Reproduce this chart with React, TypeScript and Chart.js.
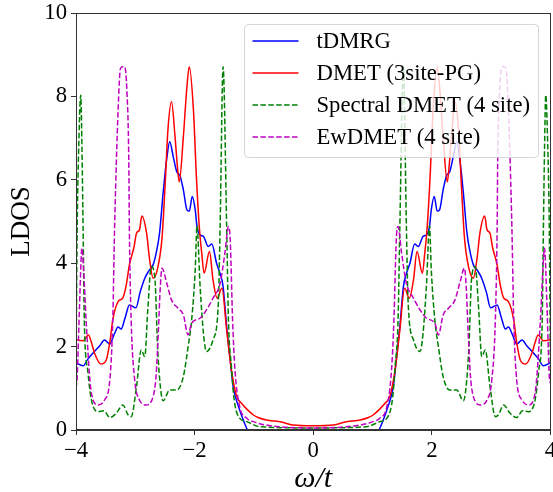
import React, { useEffect, useRef } from "react";
import { Chart, registerables } from "chart.js";

Chart.register(...registerables);

// ---- data ----
const tdmrgOmega = [
  -4.00, -3.98, -3.88, -3.80, -3.69, -3.60, -3.52, -3.43, -3.36, -3.29, -3.24, -3.17, -3.10, -2.99, -2.92, -2.84,
  -2.77, -2.70, -2.64, -2.59, -2.53, -2.47, -2.42, -2.36, -2.30, -2.25, -2.19, -2.13, -2.09, -2.04, -1.99, -1.96,
  -1.91, -1.85, -1.77, -1.71, -1.63, -1.57, -1.52, -1.46, -1.40, -1.35, -1.26, -1.18, -1.11, -1.00, -0.50, 0.00,
  0.50, 1.00, 1.11, 1.18, 1.26, 1.35, 1.40, 1.46, 1.52, 1.57, 1.63, 1.71, 1.77, 1.85, 1.91, 1.96,
  1.99, 2.04, 2.09, 2.13, 2.19, 2.25, 2.30, 2.36, 2.42, 2.47, 2.53, 2.59, 2.64, 2.70, 2.77, 2.84,
  2.92, 2.99, 3.10, 3.17, 3.24, 3.29, 3.36, 3.43, 3.52, 3.60, 3.69, 3.80, 3.88, 3.98, 4.00,
];
const tdmrgLdos = [
  1.62, 1.60, 1.54, 1.70, 1.88, 2.02, 2.16, 2.06, 2.28, 2.47, 2.42, 2.70, 3.00, 2.93, 3.30, 3.64,
  3.82, 3.96, 4.30, 4.74, 5.70, 6.50, 6.91, 6.55, 6.19, 6.11, 5.76, 5.28, 5.25, 5.60, 5.28, 4.88,
  4.68, 4.64, 4.40, 4.46, 4.00, 3.75, 3.44, 2.48, 1.68, 1.04, 0.56, 0.24, 0.00, -0.30, -0.50, -0.50,
  -0.50, -0.30, 0.00, 0.24, 0.56, 1.04, 1.68, 2.48, 3.44, 3.75, 4.00, 4.46, 4.40, 4.64, 4.68, 4.88,
  5.28, 5.60, 5.25, 5.28, 5.76, 6.11, 6.19, 6.55, 6.91, 6.50, 5.70, 4.74, 4.30, 3.96, 3.82, 3.64,
  3.30, 2.93, 3.00, 2.70, 2.42, 2.47, 2.28, 2.06, 2.16, 2.02, 1.88, 1.70, 1.54, 1.60, 1.62,
];

const dmetOmega = [
  -4.00, -3.98, -3.88, -3.79, -3.74, -3.69, -3.58, -3.49, -3.43, -3.38, -3.29, -3.21, -3.15, -3.10, -3.02, -2.98,
  -2.93, -2.89, -2.81, -2.76, -2.70, -2.62, -2.55, -2.50, -2.45, -2.39, -2.33, -2.29, -2.26, -2.19, -2.13, -2.09,
  -2.02, -1.97, -1.92, -1.88, -1.84, -1.75, -1.69, -1.62, -1.54, -1.46, -1.38, -1.29, -1.21, -1.12, -1.01, -0.93,
  -0.79, -0.56, -0.34, 0.00,
  0.34, 0.56, 0.79, 0.93, 1.01, 1.12, 1.21, 1.29, 1.38, 1.46, 1.54, 1.62, 1.69, 1.75, 1.84, 1.88,
  1.92, 1.97, 2.02, 2.09, 2.13, 2.19, 2.26, 2.29, 2.33, 2.39, 2.45, 2.50, 2.55, 2.62, 2.70, 2.76,
  2.81, 2.89, 2.93, 2.98, 3.02, 3.10, 3.15, 3.21, 3.29, 3.38, 3.43, 3.49, 3.58, 3.69, 3.74, 3.79,
  3.88, 3.98, 4.00,
];
const dmetLdos = [
  2.18, 2.16, 2.14, 2.28, 2.10, 1.85, 1.58, 1.68, 2.10, 2.64, 3.08, 3.17, 3.50, 3.96, 4.40, 4.72,
  4.80, 5.13, 4.72, 4.10, 3.64, 3.90, 4.60, 5.80, 7.20, 7.87, 7.03, 6.31, 5.95, 7.03, 8.23, 8.71,
  7.67, 6.07, 4.84, 4.24, 3.76, 4.28, 3.60, 3.16, 3.40, 2.40, 1.44, 0.80, 0.64, 0.50, 0.36, 0.30,
  0.24, 0.20, 0.12, 0.10,
  0.12, 0.20, 0.24, 0.30, 0.36, 0.50, 0.64, 0.80, 1.44, 2.40, 3.40, 3.16, 3.60, 4.28, 3.76, 4.24,
  4.84, 6.07, 7.67, 8.71, 8.23, 7.03, 5.95, 6.31, 7.03, 7.87, 7.20, 5.80, 4.60, 3.90, 3.64, 4.10,
  4.72, 5.13, 4.80, 4.72, 4.40, 3.96, 3.50, 3.17, 3.08, 2.64, 2.10, 1.68, 1.58, 1.85, 2.10, 2.28,
  2.14, 2.16, 2.18,
];

const spectralOmega = [
  -4.00, -3.98, -3.95, -3.92, -3.90, -3.88, -3.86, -3.80, -3.74, -3.63, -3.53, -3.43, -3.32, -3.21, -3.12, -3.07,
  -2.98, -2.90, -2.84, -2.79, -2.73, -2.67, -2.62, -2.53, -2.42, -2.30, -2.19, -2.11, -2.05, -1.99, -1.96, -1.91,
  -1.85, -1.80, -1.69, -1.60, -1.57, -1.52, -1.46, -1.43, -1.38, -1.34, -1.26, -1.12, -0.90, 0.00,
  0.90, 1.12, 1.26, 1.34, 1.38, 1.43, 1.46, 1.52, 1.57, 1.60, 1.69, 1.80, 1.85, 1.91, 1.96, 1.99,
  2.05, 2.11, 2.19, 2.30, 2.42, 2.53, 2.62, 2.67, 2.73, 2.79, 2.84, 2.90, 2.98, 3.07, 3.12, 3.21,
  3.32, 3.43, 3.53, 3.63, 3.74, 3.80, 3.86, 3.88, 3.90, 3.92, 3.95, 3.98, 4.00,
];
const spectralLdos = [
  1.50, 4.80, 7.00, 8.03, 6.80, 4.80, 2.64, 1.40, 0.72, 0.44, 0.46, 0.30, 0.40, 0.60, 0.36, 0.32,
  1.04, 1.92, 1.76, 2.88, 3.92, 3.64, 1.85, 0.70, 0.96, 0.96, 1.28, 2.00, 2.64, 3.84, 4.90, 3.50,
  2.30, 1.88, 2.16, 3.04, 4.90, 8.71, 4.88, 2.64, 1.52, 0.80, 0.32, 0.20, 0.08, 0.05,
  0.08, 0.20, 0.32, 0.80, 1.52, 2.64, 4.88, 8.71, 4.90, 3.04, 2.16, 1.88, 2.30, 3.50, 4.90, 3.84,
  2.64, 2.00, 1.28, 0.96, 0.96, 0.70, 1.85, 3.64, 3.92, 2.88, 1.76, 1.92, 1.04, 0.32, 0.36, 0.60,
  0.40, 0.30, 0.46, 0.44, 0.72, 1.40, 2.64, 4.80, 6.80, 8.03, 7.00, 4.80, 1.20,
];

const ewOmega = [
  -4.00, -3.98, -3.94, -3.90, -3.87, -3.83, -3.74, -3.63, -3.52, -3.43, -3.38, -3.35, -3.29, -3.25, -3.21, -3.18,
  -3.14, -3.11, -3.10, -3.07, -3.01, -2.93, -2.82, -2.70, -2.65, -2.61, -2.58, -2.55, -2.47, -2.39, -2.28, -2.19,
  -2.11, -2.05, -1.91, -1.80, -1.69, -1.57, -1.49, -1.43, -1.40, -1.36, -1.32, -1.24, -1.12, -1.01, -0.80, 0.00,
  0.80, 1.01, 1.12, 1.24, 1.32, 1.36, 1.40, 1.43, 1.49, 1.57, 1.69, 1.80, 1.91, 2.05, 2.11, 2.19,
  2.28, 2.39, 2.47, 2.55, 2.58, 2.61, 2.65, 2.70, 2.82, 2.93, 3.01, 3.07, 3.10, 3.11, 3.14, 3.18,
  3.21, 3.25, 3.29, 3.35, 3.38, 3.43, 3.52, 3.63, 3.74, 3.83, 3.87, 3.90, 3.94, 3.98, 4.00,
];
const ewLdos = [
  1.00, 1.28, 3.00, 4.36, 3.80, 2.64, 0.88, 0.60, 0.72, 1.20, 2.64, 4.80, 7.67, 8.67, 8.71, 8.71,
  8.07, 6.47, 4.80, 2.64, 1.20, 0.72, 0.60, 0.80, 1.30, 2.40, 3.40, 3.88, 3.52, 3.12, 2.92, 2.76,
  2.28, 2.56, 2.68, 2.88, 3.16, 3.52, 4.24, 4.88, 4.56, 2.64, 1.44, 0.56, 0.28, 0.20, 0.12, 0.05,
  0.12, 0.20, 0.28, 0.56, 1.44, 2.64, 4.56, 4.88, 4.24, 3.52, 3.16, 2.88, 2.68, 2.56, 2.28, 2.76,
  2.92, 3.12, 3.52, 3.88, 3.40, 2.40, 1.30, 0.80, 0.60, 0.72, 1.20, 2.64, 4.80, 6.47, 8.07, 8.71,
  8.71, 8.67, 7.67, 4.80, 2.64, 1.20, 0.72, 0.60, 0.88, 2.64, 3.80, 4.36, 3.00, 1.28, 1.12,
];

const seriesLabels = ["tDMRG", "DMET (3site-PG)", "Spectral DMET (4 site)", "EwDMET (4 site)"];
const xTickValues = [-4, -2, 0, 2, 4];
const yTickValues = [0, 2, 4, 6, 8, 10];

// ---- styling ----
const SERIF = '"Liberation Serif", "Times New Roman", serif';
const COLORS = ["#0000ff", "#ff0000", "#008000", "#bf00bf"];
const DASHES: number[][] = [[], [], [5.5, 2.4], [5.5, 2.4]];

function toPoints(xs: number[], ys: number[]) {
  const n = Math.min(xs.length, ys.length);
  const out: { x: number; y: number }[] = [];
  for (let i = 0; i < n; i++) out.push({ x: xs[i], y: ys[i] });
  return out;
}

const frameLegendPlugin = {
  id: "frameLegend",
  afterDatasetsDraw(chart: any) {
    const { ctx, chartArea: a } = chart;
    ctx.save();
    // full box frame (matplotlib spines)
    ctx.strokeStyle = "#333333";
    ctx.lineWidth = 1;
    const l = Math.round(a.left) + 0.5;
    const t = Math.round(a.top) + 0.5;
    const r = Math.round(a.right) - 0.5;
    const b = Math.round(a.bottom) - 0.5;
    ctx.strokeRect(l, t, r - l, b - t);

    // legend
    const boxW = 294;
    const boxH = 133;
    const bx = Math.round(a.right - 12.5 - boxW) + 0.5;
    const by = Math.round(a.top + 11) + 0.5;
    ctx.beginPath();
    if (ctx.roundRect) ctx.roundRect(bx, by, boxW, boxH, 4);
    else ctx.rect(bx, by, boxW, boxH);
    ctx.fillStyle = "rgba(255,255,255,0.8)";
    ctx.fill();
    ctx.strokeStyle = "rgba(204,204,204,0.8)";
    ctx.lineWidth = 1;
    ctx.stroke();

    const ds = chart.data.datasets;
    ctx.font = `22.7px ${SERIF}`;
    ctx.textBaseline = "middle";
    ctx.textAlign = "left";
    for (let i = 0; i < ds.length; i++) {
      const y = by + 16.5 + i * 32;
      ctx.beginPath();
      ctx.setLineDash(ds[i].borderDash || []);
      ctx.strokeStyle = ds[i].borderColor;
      ctx.lineWidth = 1.5;
      ctx.moveTo(bx + 8, y);
      ctx.lineTo(bx + 54, y);
      ctx.stroke();
      ctx.setLineDash([]);
      ctx.fillStyle = "#000";
      ctx.fillText(ds[i].label, bx + 72, y + 1);
    }
    ctx.restore();
  },
};

export default function App() {
  const canvasRef = useRef<HTMLCanvasElement | null>(null);

  useEffect(() => {
    document.body.style.margin = "0";
    const canvas = canvasRef.current;
    if (!canvas) return;
    const seriesX = [tdmrgOmega, dmetOmega, spectralOmega, ewOmega];
    const seriesY = [tdmrgLdos, dmetLdos, spectralLdos, ewLdos];

    const datasets = seriesLabels.map((label, i) => ({
      label,
      data: toPoints(seriesX[i], seriesY[i]),
      borderColor: COLORS[i],
      backgroundColor: COLORS[i],
      borderWidth: 1.5,
      borderDash: DASHES[i],
      pointRadius: 0,
      fill: false,
      cubicInterpolationMode: "monotone" as const,
      clip: 0,
      order: 4 - i,
    }));

    const chart = new Chart(canvas, {
      type: "line",
      data: { datasets },
      plugins: [frameLegendPlugin],
      options: {
        responsive: false,
        animation: false,
        devicePixelRatio: 1,
        layout: { padding: { left: 0, top: 13, right: 2.5, bottom: 0 } },
        plugins: { legend: { display: false }, tooltip: { enabled: false } },
        scales: {
          x: {
            type: "linear",
            min: -4,
            max: 4,
            afterBuildTicks: (s: any) => {
              s.ticks = xTickValues.map((v) => ({ value: v }));
            },
            afterFit: (s: any) => {
              s.height = 62;
              s.paddingLeft = 0;
              s.paddingRight = 0;
            },
            ticks: {
              color: "#000",
              font: { family: SERIF, size: 22.7 },
              maxRotation: 0,
              autoSkip: false,
              padding: 2,
              callback: (v: any) => (Number(v) < 0 ? "\u2212" + Math.abs(Number(v)) : String(v)),
            },
            grid: { display: true, drawOnChartArea: false, drawTicks: true, tickLength: 5, color: "#333333" },
            border: { display: true, color: "#333333", width: 1 },
            title: {
              display: true,
              text: "ω/t",
              color: "#000",
              font: { family: SERIF, size: 30, style: "italic" },
              padding: { top: 0, bottom: -5 },
            },
          },
          y: {
            type: "linear",
            min: 0,
            max: 10,
            afterBuildTicks: (s: any) => {
              s.ticks = yTickValues.map((v) => ({ value: v }));
            },
            afterFit: (s: any) => {
              s.width = 76;
              s.paddingTop = 0;
              s.paddingBottom = 0;
            },
            ticks: {
              color: "#000",
              font: { family: SERIF, size: 22.7 },
              autoSkip: false,
              padding: 4,
            },
            grid: { display: true, drawOnChartArea: false, drawTicks: true, tickLength: 5, color: "#333333" },
            border: { display: true, color: "#333333", width: 1 },
            title: {
              display: true,
              text: "LDOS",
              color: "#000",
              font: { family: SERIF, size: 27 },
              padding: { top: 6, bottom: 0 },
            },
          },
        },
      },
    } as any);

    return () => chart.destroy();
  }, []);

  return (
    <div style={{ width: 553, height: 492 }}>
      <canvas ref={canvasRef} width={553} height={492} style={{ display: "block" }} />
    </div>
  );
}
